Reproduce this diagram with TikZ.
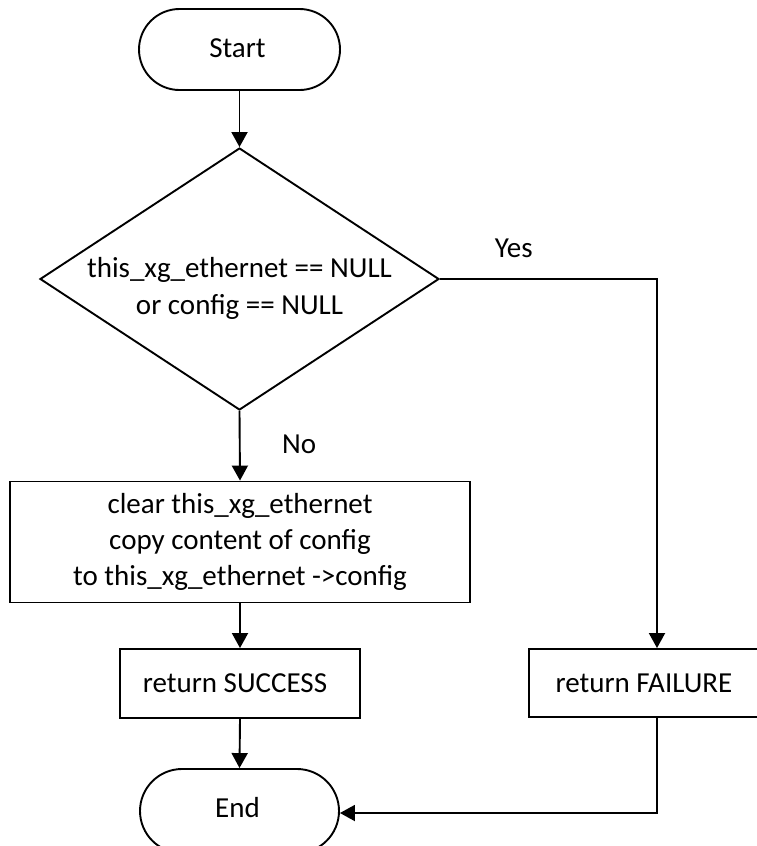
\documentclass[tikz,border=0pt]{standalone}
\usepackage{fontspec}
\setmainfont{Carlito}
\usetikzlibrary{shapes.geometric,shapes.misc,arrows.meta}
\begin{document}
\begin{tikzpicture}[x=1pt,y=-1pt,
  every node/.style={font=\fontsize{29}{36}\selectfont},
  terminal/.style={draw, rounded rectangle, line width=1.9pt, inner sep=0pt},
  procbox/.style={draw, rectangle, line width=1.9pt, inner sep=0pt, align=center},
  decision/.style={draw, diamond, line width=1.9pt, inner sep=0pt},
  flow/.style={line width=1.9pt, -{Triangle[width=16pt,length=15pt]}},
  branch/.style={font=\fontsize{29}{36}\selectfont}
]
\useasboundingbox (0,0) rectangle (757,846);

% terminals, decision and process boxes
\node[terminal, minimum width=201pt, minimum height=81pt] (start) at (239.5,49.5) {\raisebox{3pt}{Start}\hspace*{4pt}};
\node[decision, minimum width=399pt, minimum height=262pt,
      label={[align=center, yshift=-9pt, font=\fontsize{29}{37}\selectfont]center:this\_xg\_ethernet == NULL\\or config == NULL}]
      (check) at (239.5,279) {};
\node[procbox, minimum width=460pt, minimum height=121pt] (copy) at (240,542)
      {clear this\_xg\_ethernet\\copy content of config\\to this\_xg\_ethernet ->config};
\node[procbox, minimum width=240pt, minimum height=69pt] (succ) at (240,683.5)
      {return SUCCESS\hspace*{10pt}};
\node[procbox, minimum width=256pt, minimum height=68pt] (fail) at (657,683)
      {return FAILURE\hspace*{26pt}};
\node[terminal, minimum width=199pt, minimum height=84pt] (end) at (239.5,811) {\raisebox{7pt}{End}\hspace*{4pt}};

% connectors
\draw[flow] (start.south) -- (check.north);
\draw[flow] (check.south) -- node[branch, pos=0.48, right=38pt] (no) {No} (copy.north);
\draw[flow] (check.east) -| node[branch, pos=0.17, above=17pt] (yes) {Yes} (fail.north);
\draw[flow] (copy.south) -- (succ.north);
\draw[flow] (succ.south) -- (end.north);
\draw[flow] (fail.south) |- ([yshift=-2pt]end.east);
\end{tikzpicture}
\end{document}
